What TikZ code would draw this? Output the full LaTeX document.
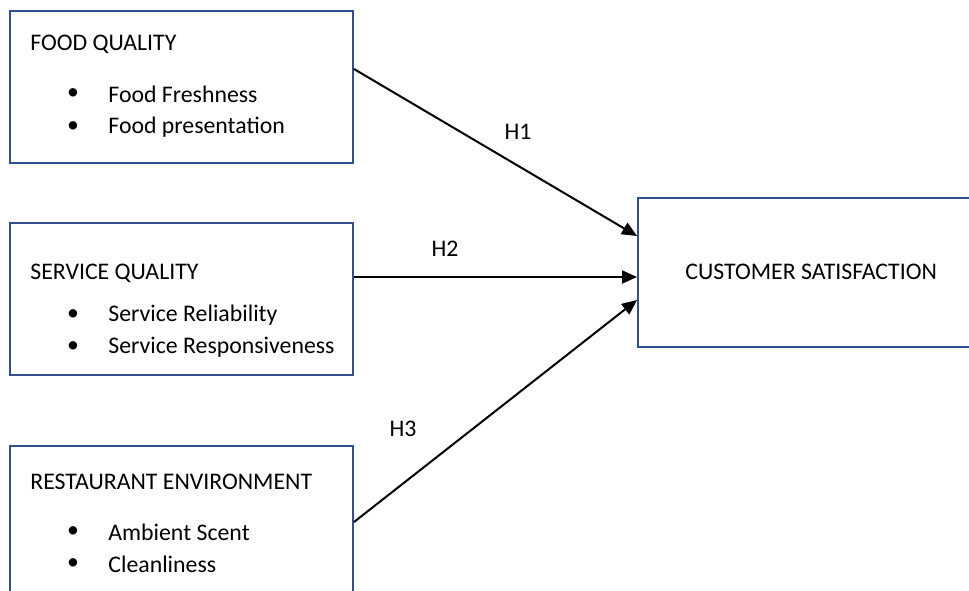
\documentclass[tikz,border=0pt]{standalone}
\usepackage{fontspec}
\setmainfont{Carlito}
\usepackage{tikz}
\usetikzlibrary{arrows.meta}
\definecolor{boxblue}{RGB}{47,82,143}
\tikzset{
	box/.style={draw=boxblue, line width=1pt, rectangle, anchor=north west, minimum width=171.5pt, minimum height=76pt, inner sep=0pt},
	txt/.style={anchor=west, inner sep=0pt, font=\fontsize{11.9}{14.3}\selectfont},
	dot/.style={inner sep=0pt, font=\fontsize{11.9}{14.3}\selectfont},
	hlabel/.style={inner sep=0pt, font=\fontsize{11.9}{14.3}\selectfont},
	link/.style={line width=1pt, -{Triangle[length=7.5pt,width=6.5pt]}}
}
\begin{document}
\begin{tikzpicture}[x=0.5pt, y=-0.5pt]
	\useasboundingbox (0,0) rectangle (969,590);
	\clip (0,0) rectangle (969,590);
	\node [box] (food) at (9,10) {};
	\node [box] (service) at (9,222) {};
	\node [box] (env) at (9,445) {};
	\node [box, minimum width=175pt, minimum height=74.5pt] (sat) at (637,197) {};
	\node [txt] (foodhead) at (30,44) {FOOD QUALITY};
	\node [dot] (fooddot1) at (73,94) {\textbullet};
	\node [txt] (fooditem1) at (108,94) {Food Freshness};
	\node [dot] (fooddot2) at (73,127) {\textbullet};
	\node [txt] (fooditem2) at (108,127) {Food presentation};
	\node [txt] (servicehead) at (30,273) {SERVICE QUALITY};
	\node [dot] (servicedot1) at (73,315) {\textbullet};
	\node [txt] (serviceitem1) at (108,315) {Service Reliability};
	\node [dot] (servicedot2) at (73,347) {\textbullet};
	\node [txt] (serviceitem2) at (108,347) {Service Responsiveness};
	\node [txt] (envhead) at (30,482) {RESTAURANT ENVIRONMENT};
	\node [dot] (envdot1) at (73,532) {\textbullet};
	\node [txt] (envitem1) at (108,532) {Ambient Scent};
	\node [dot] (envdot2) at (73,564) {\textbullet};
	\node [txt] (envitem2) at (108,564) {Cleanliness};
	\node [txt] (sathead) at (685,272) {CUSTOMER SATISFACTION};
	\draw [link] ([yshift=9pt]food.east) -- ([yshift=18.25pt]sat.west);
	\draw [link] ([yshift=11pt]service.east) -- ([yshift=-2.25pt]sat.west);
	\draw [link] (env.east) -- ([yshift=-13.75pt]sat.west);
	\node [hlabel] (h1) at (518,132) {H1};
	\node [hlabel] (h2) at (445,249) {H2};
	\node [hlabel] (h3) at (403,429) {H3};
\end{tikzpicture}
\end{document}
